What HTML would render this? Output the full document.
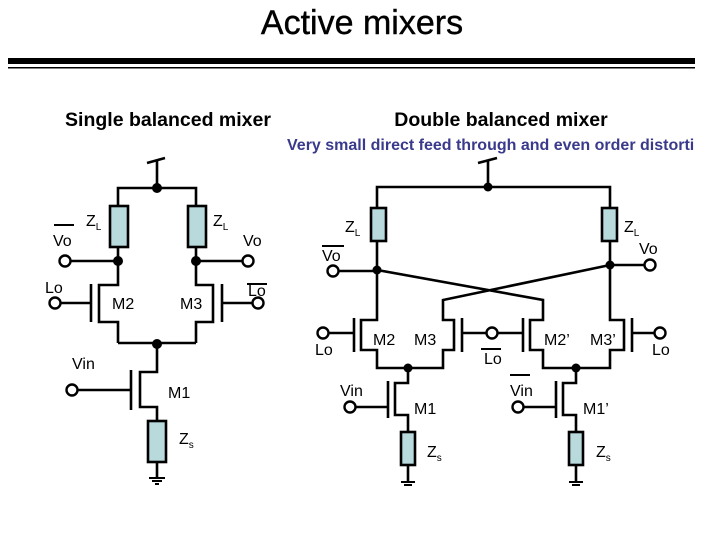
<!DOCTYPE html>
<html><head><meta charset="utf-8"><style>
html,body{margin:0;padding:0;background:#fff;}
svg{display:block}
text{font-family:"Liberation Sans",Arial,sans-serif;}
</style></head><body>
<svg width="720" height="540" viewBox="0 0 720 540" xmlns="http://www.w3.org/2000/svg">
<text x="362" y="34" font-size="34" text-anchor="middle" fill="#000" stroke="#000" stroke-width="0.4">Active mixers</text>
<rect x="8" y="58" width="687" height="6" fill="#000"/>
<rect x="8" y="67" width="687" height="1.5" fill="#000"/>
<text x="168" y="126" font-size="19.5" font-weight="bold" text-anchor="middle">Single balanced mixer</text>
<text x="501" y="126" font-size="19.5" font-weight="bold" text-anchor="middle">Double balanced mixer</text>
<text x="287" y="150" font-size="16" font-weight="bold" fill="#3a3a8c">Very small direct feed through and even order distorti</text>

<g stroke="#000" stroke-width="2.6" fill="none" stroke-linejoin="miter">
<path d="M147 163 L165 158 M157 161 V188 M118 206 V188 H196 V206"/>
<path d="M118 247 V285 H99 V322 H118 V343 M196 247 V285 H213 V322 H196 V343 M118 343 H196"/>
<path d="M91 284 V322 M222 284 V322 M60 303 H91 M222 303 H253"/>
<path d="M70 261 H118 M196 261 H243"/>
<path d="M157 343 V372 H140 V407 H157 V421 M131 370 V410 M77 390 H131"/>
<path d="M157 462 V478"/>
<path d="M478 163 L497 158 M488 161 V187 M377 208 V187 H610 V208"/>
<path d="M377 241 V320 H361 V350 H377 V368 H443 V350 H454 V320 H443 V300 L610 265 M610 241 V320 H624 V350 H610 V368 H543 V350 H530 V320 H543 V300 L377 270"/>
<path d="M354 318 V352 M462 318 V352 M523 318 V352 M632 318 V352"/>
<path d="M328 333 H354 M462 333 H487 M497 333 H523 M632 333 H655"/>
<path d="M338 271 H377 M610 265 H645"/>
<path d="M408 368 V383 H395 V415 H408 V432 M388 381 V418 M355 407 H388 M408 465 V482"/>
<path d="M576 368 V383 H563 V415 H576 V432 M556 381 V418 M523 407 H556 M576 465 V482"/>
</g>
<g fill="#b8dadd" stroke="#000" stroke-width="2.6">
<rect x="110" y="206" width="18" height="41"/>
<rect x="188" y="206" width="18" height="41"/>
<rect x="148" y="421" width="18" height="41"/>
<rect x="371" y="208" width="15" height="33"/>
<rect x="602" y="208" width="15" height="33"/>
<rect x="401" y="432" width="14" height="33"/>
<rect x="569" y="432" width="14" height="33"/>
</g>
<g fill="#fff" stroke="#000" stroke-width="2.4">
<circle cx="65" cy="261" r="5.5"/><circle cx="248" cy="261" r="5.5"/>
<circle cx="55" cy="303" r="5.5"/><circle cx="258" cy="303" r="5.5"/>
<circle cx="72" cy="390" r="5.5"/>
<circle cx="333" cy="271" r="5.5"/><circle cx="650" cy="265" r="5.5"/>
<circle cx="323" cy="333" r="5.5"/><circle cx="492" cy="333" r="5.5"/><circle cx="660" cy="333" r="5.5"/>
<circle cx="350" cy="407" r="5.5"/><circle cx="518" cy="407" r="5.5"/>
</g>
<g fill="#000">
<circle cx="157" cy="188" r="5"/><circle cx="118" cy="261" r="5"/><circle cx="196" cy="261" r="5"/><circle cx="157" cy="344" r="5"/>
<circle cx="488" cy="187" r="4.5"/><circle cx="377" cy="270" r="4.5"/><circle cx="610" cy="265" r="4.5"/>
<circle cx="408" cy="368" r="4.5"/><circle cx="576" cy="368" r="4.5"/>
</g>
<g stroke="#000" stroke-width="2">
<path d="M149 478 H165 M152 481 H162 M155 484 H159"/>
<path d="M401 482 H415 M404 485 H412"/>
<path d="M569 482 H583 M572 485 H580"/>
<path d="M54 225 H74 M247 284 H267 M322 246 H344 M481 349 H501 M510 375 H530"/>
</g>
<g font-size="16" fill="#000">
<text x="86" y="226">Z<tspan font-size="10" dy="4">L</tspan></text>
<text x="213" y="226">Z<tspan font-size="10" dy="4">L</tspan></text>
<text x="53" y="246">Vo</text>
<text x="243" y="246">Vo</text>
<text x="45" y="293">Lo</text>
<text x="248" y="296">Lo</text>
<text x="112" y="309">M2</text>
<text x="180" y="309">M3</text>
<text x="72" y="369">Vin</text>
<text x="168" y="398">M1</text>
<text x="179" y="444">Z<tspan font-size="10" dy="4">s</tspan></text>
<text x="345" y="232">Z<tspan font-size="10" dy="4">L</tspan></text>
<text x="624" y="232">Z<tspan font-size="10" dy="4">L</tspan></text>
<text x="322" y="261">Vo</text>
<text x="639" y="254">Vo</text>
<text x="315" y="355">Lo</text>
<text x="484" y="364">Lo</text>
<text x="652" y="355">Lo</text>
<text x="373" y="345">M2</text>
<text x="414" y="345">M3</text>
<text x="544" y="345">M2’</text>
<text x="590" y="345">M3’</text>
<text x="340" y="396">Vin</text>
<text x="510" y="396">Vin</text>
<text x="414" y="414">M1</text>
<text x="583" y="414">M1’</text>
<text x="427" y="457">Z<tspan font-size="10" dy="4">s</tspan></text>
<text x="596" y="457">Z<tspan font-size="10" dy="4">s</tspan></text>
</g>
</svg>
</body></html>
